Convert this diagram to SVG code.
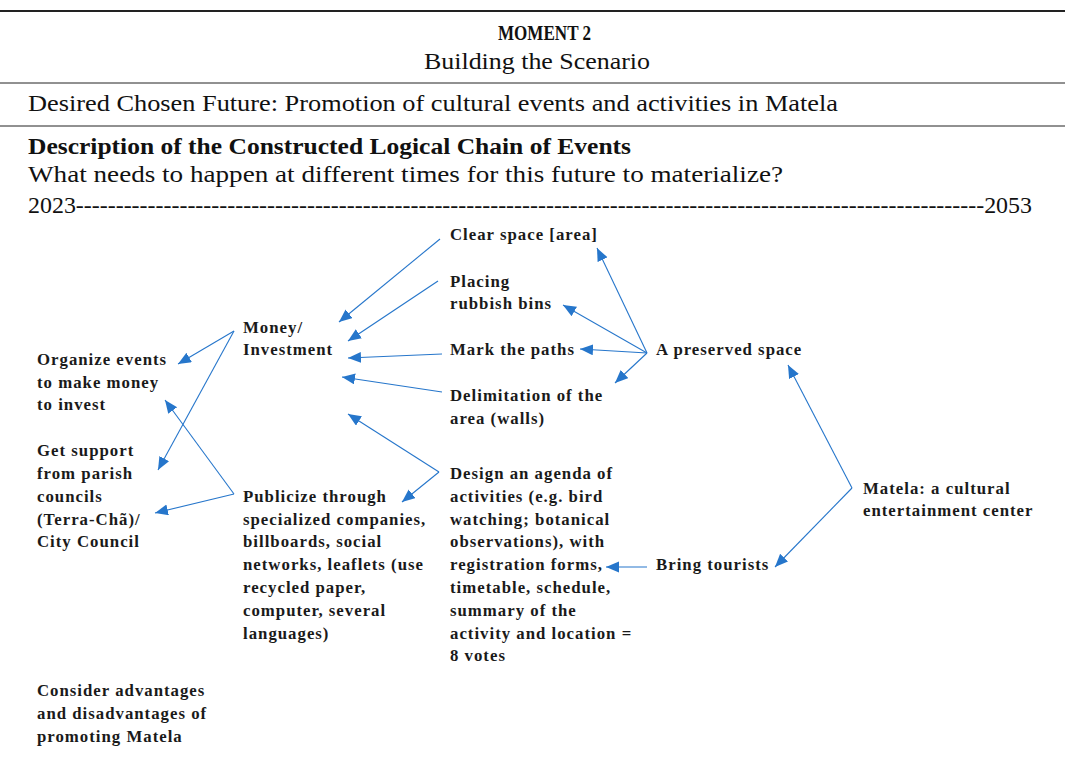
<svg xmlns="http://www.w3.org/2000/svg" width="1065" height="767" viewBox="0 0 1065 767">
<defs>
<style>
.h{font-family:"Liberation Serif","Times New Roman",serif;font-size:24px;fill:#111}
.hb{font-weight:bold}
.n{font-family:"Liberation Serif","Times New Roman",serif;font-size:16.8px;font-weight:bold;letter-spacing:1px;fill:#1a1a1a}
.c{stroke:#2676CB;stroke-width:1.1;fill:none;marker-end:url(#ah)}
.rule{stroke:#222;fill:none}
</style>
<marker id="ah" markerUnits="userSpaceOnUse" markerWidth="14" markerHeight="12" refX="13" refY="5.5" orient="auto">
<path d="M0,0 L13,5.5 L0,11 Z" fill="#2676CB"/>
</marker>
</defs>
<rect width="1065" height="767" fill="#fff"/>
<g id="header">
<line class="rule" x1="0" y1="11" x2="1065" y2="11" stroke-width="2"/>
<line class="rule" x1="0" y1="83" x2="1065" y2="83" stroke-width="1"/>
<line class="rule" x1="0" y1="126" x2="1065" y2="126" stroke-width="1"/>
<text class="h hb" x="498" y="40" style="font-size:22px" textLength="93" lengthAdjust="spacingAndGlyphs">MOMENT 2</text>
<text class="h" x="424" y="69" textLength="226" lengthAdjust="spacingAndGlyphs">Building the Scenario</text>
<text class="h" x="28" y="111" textLength="810" lengthAdjust="spacingAndGlyphs">Desired Chosen Future: Promotion of cultural events and activities in Matela</text>
<text class="h hb" x="28" y="154" textLength="603" lengthAdjust="spacingAndGlyphs">Description of the Constructed Logical Chain of Events</text>
<text class="h" x="28" y="182" textLength="755" lengthAdjust="spacingAndGlyphs">What needs to happen at different times for this future to materialize?</text>
<text class="h" x="28" y="213" textLength="1004" lengthAdjust="spacingAndGlyphs">2023------------------------------------------------------------------------------------------------------------------2053</text>
</g>
<g id="connectors">
<line class="c" x1="440" y1="239" x2="339" y2="322"/>
<line class="c" x1="438" y1="281" x2="348" y2="341"/>
<line class="c" x1="442" y1="354" x2="348" y2="358"/>
<line class="c" x1="442" y1="392" x2="342" y2="377"/>
<line class="c" x1="439" y1="472" x2="348" y2="414"/>
<line class="c" x1="439" y1="472" x2="402" y2="502"/>
<line class="c" x1="234" y1="331" x2="178" y2="364"/>
<line class="c" x1="234" y1="331" x2="158" y2="470"/>
<line class="c" x1="234" y1="494" x2="155" y2="513"/>
<line class="c" x1="234" y1="494" x2="165" y2="400"/>
<line class="c" x1="647" y1="353" x2="597" y2="248"/>
<line class="c" x1="647" y1="353" x2="563" y2="305"/>
<line class="c" x1="647" y1="353" x2="580" y2="349"/>
<line class="c" x1="647" y1="353" x2="615" y2="383"/>
<line class="c" x1="852" y1="488" x2="788" y2="365"/>
<line class="c" x1="852" y1="488" x2="775" y2="567"/>
<line class="c" x1="647" y1="567" x2="606" y2="567"/>
</g>
<g id="clear-space"><text class="n" x="450" y="240">Clear space [area]</text></g>
<g id="rubbish-bins"><text class="n" x="450" y="287">Placing<tspan x="450" y="309">rubbish bins</tspan></text></g>
<g id="money"><text class="n" x="243" y="333">Money/<tspan x="243" y="355">Investment</tspan></text></g>
<g id="organize-events"><text class="n" x="37" y="365">Organize events<tspan x="37" y="388">to make money</tspan><tspan x="37" y="410">to invest</tspan></text></g>
<g id="mark-paths"><text class="n" x="450" y="355">Mark the paths</text></g>
<g id="preserved-space"><text class="n" x="656" y="355">A preserved space</text></g>
<g id="delimitation"><text class="n" x="450" y="401">Delimitation of the<tspan x="450" y="424">area (walls)</tspan></text></g>
<g id="get-support"><text class="n" x="37" y="456">Get support<tspan x="37" y="479">from parish</tspan><tspan x="37" y="502">councils</tspan><tspan x="37" y="525">(Terra-Chã)/</tspan><tspan x="37" y="547">City Council</tspan></text></g>
<g id="design-agenda"><text class="n" x="450" y="479">Design an agenda of<tspan x="450" y="502">activities (e.g. bird</tspan><tspan x="450" y="525">watching; botanical</tspan><tspan x="450" y="547">observations), with</tspan><tspan x="450" y="570">registration forms,</tspan><tspan x="450" y="593">timetable, schedule,</tspan><tspan x="450" y="616">summary of the</tspan><tspan x="450" y="639">activity and location =</tspan><tspan x="450" y="661">8 votes</tspan></text></g>
<g id="publicize"><text class="n" x="243" y="502">Publicize through<tspan x="243" y="525">specialized companies,</tspan><tspan x="243" y="547">billboards, social</tspan><tspan x="243" y="570">networks, leaflets (use</tspan><tspan x="243" y="593">recycled paper,</tspan><tspan x="243" y="616">computer, several</tspan><tspan x="243" y="639">languages)</tspan></text></g>
<g id="matela"><text class="n" x="863" y="494">Matela: a cultural<tspan x="863" y="516">entertainment center</tspan></text></g>
<g id="bring-tourists"><text class="n" x="656" y="570">Bring tourists</text></g>
<g id="consider"><text class="n" x="37" y="696">Consider advantages<tspan x="37" y="719">and disadvantages of</tspan><tspan x="37" y="742">promoting Matela</tspan></text></g>
</svg>
